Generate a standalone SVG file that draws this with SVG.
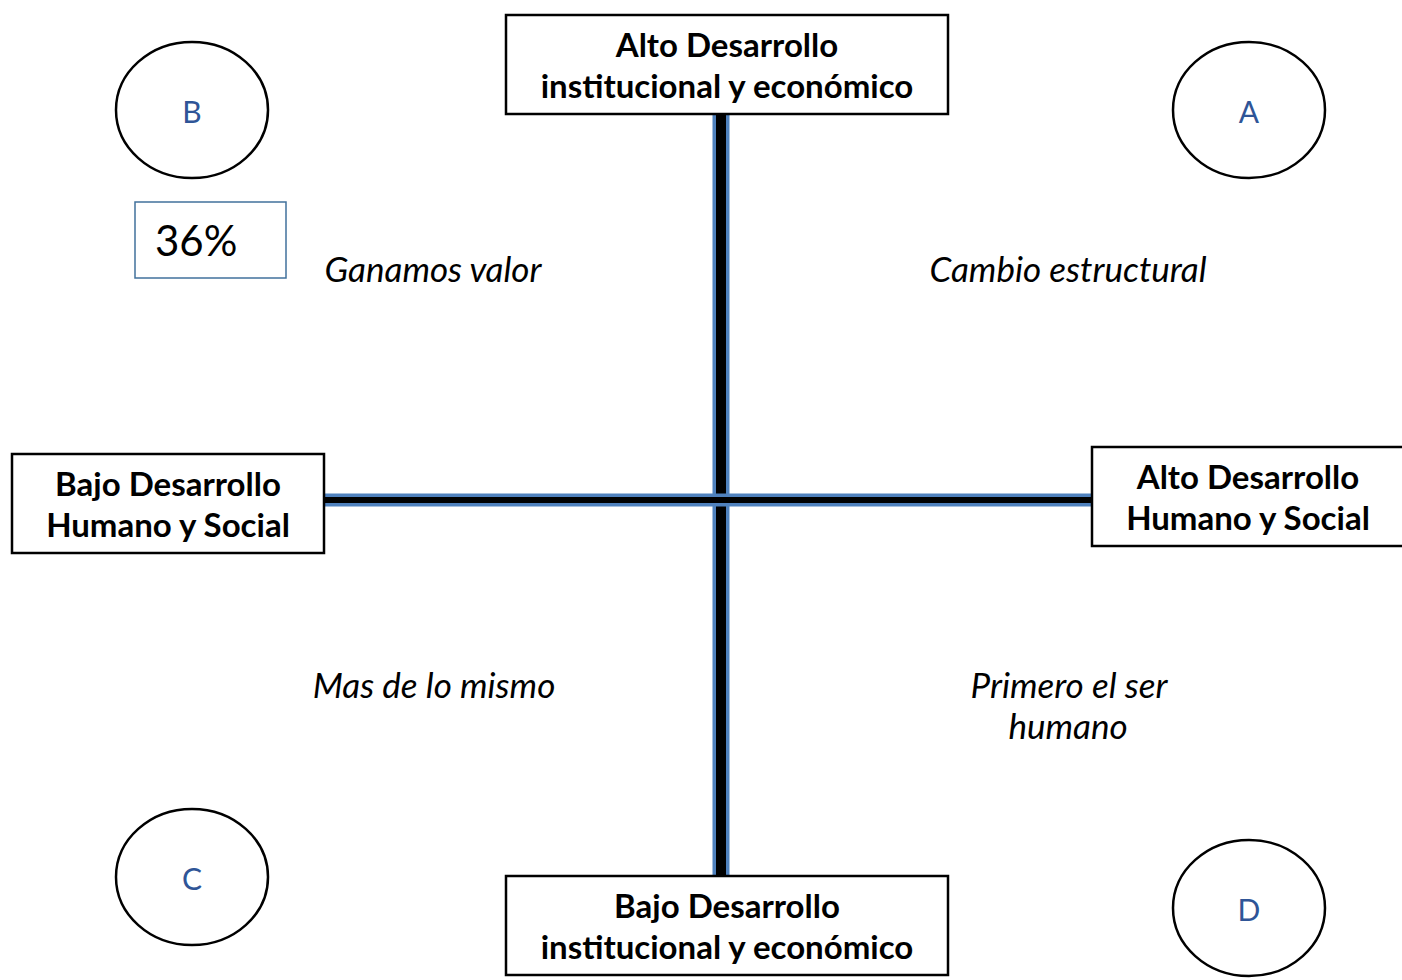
<svg xmlns="http://www.w3.org/2000/svg" width="1402" height="980" viewBox="0 0 1402 980">
<style>
.box{fill:#fff;stroke:#000;stroke-width:2.5}
.bt{font-family:Lato,"Liberation Sans",sans-serif;font-weight:bold;font-size:33px;fill:#000;text-anchor:middle}
.circ{fill:#fff;stroke:#000;stroke-width:2.5}
.lt{font-family:Lato,"Liberation Sans",sans-serif;font-size:30px;fill:#2F5597;text-anchor:middle}
.it{font-family:Lato,"Liberation Sans",sans-serif;font-style:italic;font-size:35px;fill:#000;text-anchor:middle}
</style>
<rect width="1402" height="980" fill="#fff"/>
<g id="connectors">
<rect x="712.5" y="115" width="17" height="761" fill="#4F81BD"/>
<rect x="716" y="115" width="10" height="761" fill="#000"/>
<rect x="324" y="493.5" width="768" height="13" fill="#4F81BD"/>
<rect x="324" y="497" width="768" height="6" fill="#000"/>
</g>
<g id="top-box">
<rect class="box" x="506" y="15" width="442" height="99"/>
<text class="bt" x="727" y="57">Alto Desarrollo</text>
<text class="bt" x="727" y="98">institucional y económico</text>
</g>
<g id="bottom-box">
<rect class="box" x="506" y="876" width="442" height="99"/>
<text class="bt" x="727" y="918">Bajo Desarrollo</text>
<text class="bt" x="727" y="959">institucional y económico</text>
</g>
<g id="left-box">
<rect class="box" x="12" y="454" width="312" height="99"/>
<text class="bt" x="168" y="496">Bajo Desarrollo</text>
<text class="bt" x="168" y="537">Humano y Social</text>
</g>
<g id="right-box">
<rect class="box" x="1092" y="447" width="312" height="99"/>
<text class="bt" x="1248" y="489">Alto Desarrollo</text>
<text class="bt" x="1248" y="530">Humano y Social</text>
</g>
<g id="circle-B">
<ellipse class="circ" cx="192" cy="110" rx="76" ry="68"/>
<text class="lt" x="192" y="123">B</text>
</g>
<g id="circle-A">
<ellipse class="circ" cx="1249" cy="110" rx="76" ry="68"/>
<text class="lt" x="1249" y="123">A</text>
</g>
<g id="circle-C">
<ellipse class="circ" cx="192" cy="877" rx="76" ry="68"/>
<text class="lt" x="192" y="890">C</text>
</g>
<g id="circle-D">
<ellipse class="circ" cx="1249" cy="908" rx="76" ry="68"/>
<text class="lt" x="1249" y="921">D</text>
</g>
<g id="pct-box">
<rect x="135" y="202" width="151" height="76" fill="#fff" stroke="#41719C" stroke-width="1.5"/>
<text x="155" y="256" font-family="Lato,'Liberation Sans',sans-serif" font-size="42" fill="#000">36%</text>
</g>
<g id="labels">
<text class="it" x="433" y="282">Ganamos valor</text>
<text class="it" x="1068" y="282">Cambio estructural</text>
<text class="it" x="434" y="698">Mas de lo mismo</text>
<text class="it" x="1069" y="698">Primero el ser</text>
<text class="it" x="1068" y="739">humano</text>
</g>
</svg>
